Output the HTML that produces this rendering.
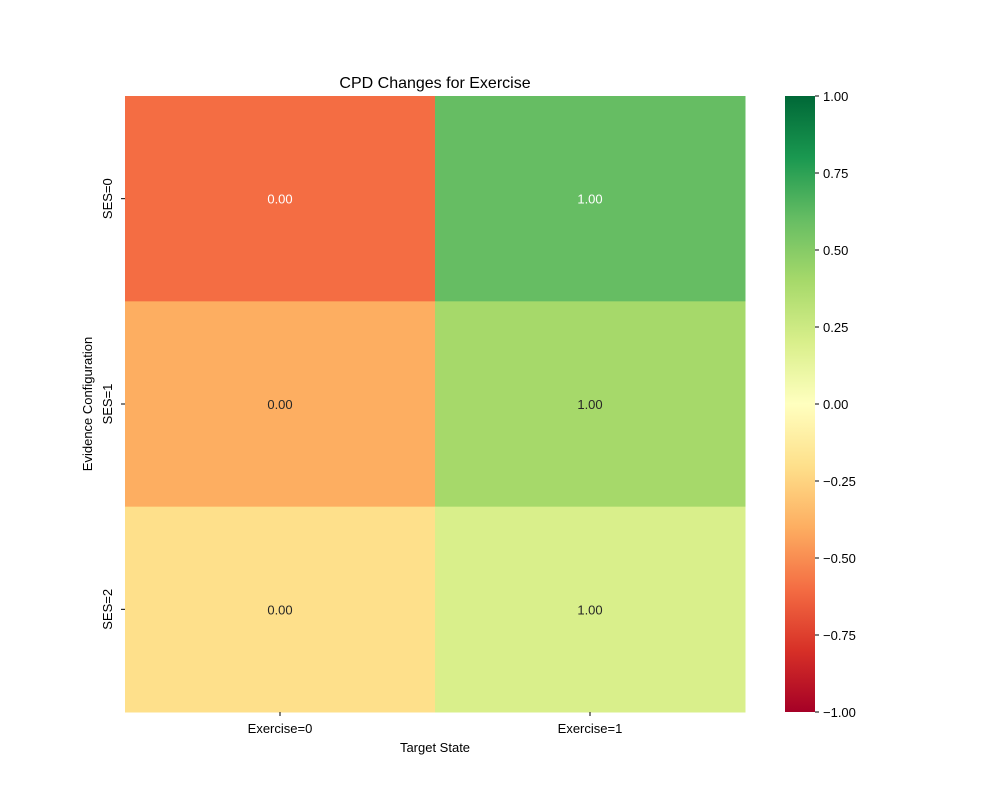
<!DOCTYPE html>
<html><head><meta charset="utf-8"><style>
body{margin:0;background:#fff;}
svg text{font-family:"Liberation Sans","DejaVu Sans",sans-serif;}
</style></head><body>
<svg id="chart" width="1000" height="800" viewBox="0 0 1000 800" xmlns="http://www.w3.org/2000/svg">
<defs>
<linearGradient id="cbgrad" x1="0" y1="1" x2="0" y2="0">
<stop offset="0" stop-color="#a50026"/><stop offset="0.1" stop-color="#d73027"/><stop offset="0.2" stop-color="#f46d43"/><stop offset="0.3" stop-color="#fdae61"/><stop offset="0.4" stop-color="#fee08b"/><stop offset="0.5" stop-color="#ffffbf"/><stop offset="0.6" stop-color="#d9ef8b"/><stop offset="0.7" stop-color="#a6d96a"/><stop offset="0.8" stop-color="#66bd63"/><stop offset="0.9" stop-color="#1a9850"/><stop offset="1" stop-color="#006837"/>
</linearGradient>
</defs>
<text x="435" y="88" font-size="16" text-anchor="middle">CPD Changes for Exercise</text>
<g id="cells"></g>
<g id="axes"></g>
<rect x="785" y="96" width="30" height="616" fill="url(#cbgrad)"/>
<g id="cbticks"></g>
<text x="435" y="752" font-size="13" text-anchor="middle">Target State</text>
<text transform="translate(92,404) rotate(-90)" font-size="13" text-anchor="middle">Evidence Configuration</text>
</svg>
<script>
const xLabels = ["Exercise=0", "Exercise=1"];
const yLabels = ["SES=0", "SES=1", "SES=2"];
const colorVals = [[-0.6, 0.6], [-0.4, 0.4], [-0.2, 0.2]];
const annotVals = [[0.00, 1.00], [0.00, 1.00], [0.00, 1.00]];
const cbTicks = [-1, -0.75, -0.5, -0.25, 0, 0.25, 0.5, 0.75, 1];

const NS = "http://www.w3.org/2000/svg";
const X0 = 125, X1 = 745, Y0 = 96, Y1 = 712;
const cw = (X1 - X0) / xLabels.length, ch = (Y1 - Y0) / yLabels.length;
const stops = ["#a50026","#d73027","#f46d43","#fdae61","#fee08b","#ffffbf","#d9ef8b","#a6d96a","#66bd63","#1a9850","#006837"];
function hex(h){return [1,3,5].map(i=>parseInt(h.substr(i,2),16));}
function cmap(v){
  let t = Math.max(0, Math.min(1, (v + 1) / 2)) * 10;
  let i = Math.min(9, Math.floor(t)), f = t - i;
  let a = hex(stops[i]), b = hex(stops[i+1]);
  let c = a.map((x,k)=>Math.round(x + (b[k]-x)*f));
  return {css:"rgb("+c.join(",")+")", lum:(0.299*c[0]+0.587*c[1]+0.114*c[2])};
}
function el(tag, attrs, parent){const e=document.createElementNS(NS,tag);for(const k in attrs)e.setAttribute(k,attrs[k]);parent.appendChild(e);return e;}
const cells = document.getElementById("cells");
colorVals.forEach((row, r) => row.forEach((v, c) => {
  const col = cmap(v);
  const rect = el("rect", {x:X0+c*cw, y:Y0+r*ch, width:cw+0.5, height:ch+0.5, fill:col.css}, cells);
  
  
  const t = el("text", {x:X0+c*cw+cw/2, y:Y0+r*ch+ch/2+5, "font-size":13, "text-anchor":"middle", fill: col.lum < 160 ? "#fff" : "#262626"}, cells);
  t.textContent = annotVals[r][c].toFixed(2);
  
  
}));
const axes = document.getElementById("axes");
xLabels.forEach((l, i) => {
  const x = X0 + i*cw + cw/2;
  el("line", {x1:x, x2:x, y1:Y1, y2:Y1+4, stroke:"#000"}, axes);
  const t = el("text", {x:x, y:Y1+21, "font-size":13, "text-anchor":"middle"}, axes);
  t.textContent = l;
  
  
});
yLabels.forEach((l, i) => {
  const y = Y0 + i*ch + ch/2;
  el("line", {x1:X0-4, x2:X0, y1:y, y2:y, stroke:"#000"}, axes);
  const t = el("text", {transform:"translate("+(X0-13)+","+y+") rotate(-90)", "font-size":13, "text-anchor":"middle"}, axes);
  t.textContent = l;
  
  
});
const cbt = document.getElementById("cbticks");
cbTicks.forEach(v => {
  const y = Y1 - (v + 1) / 2 * (Y1 - Y0);
  el("line", {x1:815, x2:819, y1:y, y2:y, stroke:"#000"}, cbt);
  const t = el("text", {x:823, y:y+5, "font-size":13}, cbt);
  t.textContent = (v < 0 ? "\u2212" : "") + Math.abs(v).toFixed(2);
  
  
});
</script>
</body></html>
